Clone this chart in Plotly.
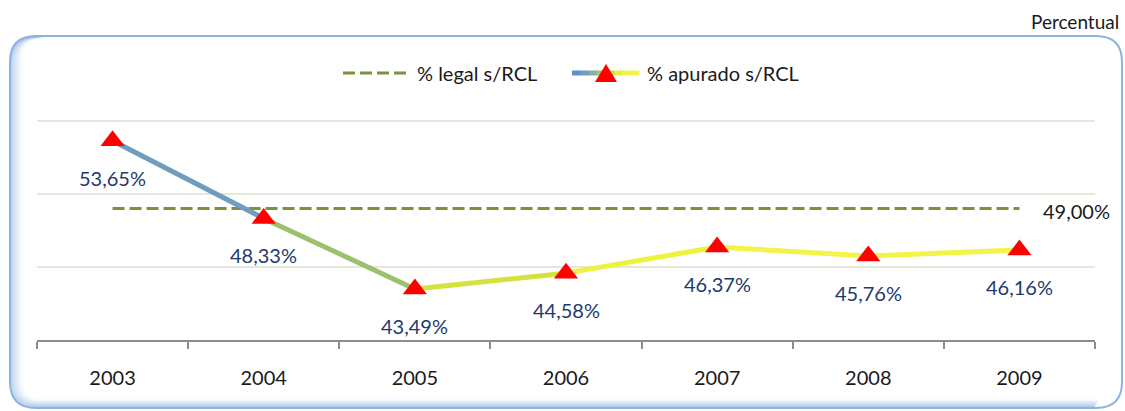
import plotly.graph_objects as go

# ---------------- data ----------------
years = ["2003", "2004", "2005", "2006", "2007", "2008", "2009"]
apurado = [53.65, 48.33, 43.49, 44.58, 46.37, 45.76, 46.16]
legal = [49.00, 49.00, 49.00, 49.00, 49.00, 49.00, 49.00]
apurado_labels = ["53,65%", "48,33%", "43,49%", "44,58%", "46,37%", "45,76%", "46,16%"]
legal_label = "49,00%"
legend_names = ["% legal s/RCL", "% apurado s/RCL"]
unit_text = "Percentual"

# colours of each line segment (gradient blue -> green -> yellow)
seg_colors = ["#6F9DBE", "#9DC06C", "#D3E23E", "#EDF23C", "#F2F44A", "#F2F44A"]

FONT = "Lato"
W, H = 1125, 411
L, R, T, B = 37, 30, 120, 71
PW, PH = W - L - R, H - T - B
BOT = H - B


def pp(px, py):
    return (px - L) / PW, (BOT - py) / PH


fig = go.Figure()

# legal line
fig.add_trace(go.Scatter(x=years, y=legal, mode="lines",
                         line=dict(color="#77933C", width=3, dash="12px,5px"),
                         hoverinfo="skip", showlegend=False))

# apurado line segments
for i in range(len(years) - 1):
    fig.add_trace(go.Scatter(x=years[i:i + 2], y=apurado[i:i + 2], mode="lines",
                             line=dict(color=seg_colors[i], width=5),
                             hoverinfo="skip", showlegend=False))

# markers
fig.add_trace(go.Scatter(x=years, y=apurado, mode="markers",
                         marker=dict(symbol="triangle-up", size=21, color="#FF0000",
                                     line=dict(width=0)),
                         showlegend=False))

annotations = []
for i, (v, lab) in enumerate(zip(apurado, apurado_labels)):
    annotations.append(dict(x=i, y=v, xref="x", yref="y", text=lab, showarrow=False,
                            yshift=-37,
                            font=dict(family=FONT, size=20, color="#1F3A6E"),
                            xanchor="center", yanchor="middle"))
annotations.append(dict(x=len(years) - 1, y=legal[-1], xref="x", yref="y",
                        text=legal_label, showarrow=False,
                        xshift=22, yshift=-2, xanchor="left", yanchor="middle",
                        font=dict(family=FONT, size=20, color="#1A1A1A")))

# unit text
ux, uy = pp(1121, 21)
annotations.append(dict(xref="paper", yref="paper", x=ux, y=uy, text=unit_text,
                        showarrow=False, xanchor="right", yanchor="middle",
                        font=dict(family=FONT, size=19, color="#1A1A1A")))

# legend texts
lx1, ly = pp(415, 73)
lx2, _ = pp(645, 73)
annotations.append(dict(xref="paper", yref="paper", x=lx1, y=ly, text=legend_names[0],
                        showarrow=False, xanchor="left", yanchor="middle",
                        font=dict(family=FONT, size=20, color="#1A1A1A")))
annotations.append(dict(xref="paper", yref="paper", x=lx2, y=ly, text=legend_names[1],
                        showarrow=False, xanchor="left", yanchor="middle",
                        font=dict(family=FONT, size=20, color="#1A1A1A")))

shapes = []


def _P(x, y):
    a, b = pp(x, y)
    return f"{a:.5f},{b:.5f}"


def rr_path(x0, y0, x1, y1, r):
    P = _P
    return (f"M {P(x0 + r, y0)} L {P(x1 - r, y0)} Q {P(x1, y0)} {P(x1, y0 + r)} "
            f"L {P(x1, y1 - r)} Q {P(x1, y1)} {P(x1 - r, y1)} L {P(x0 + r, y1)} "
            f"Q {P(x0, y1)} {P(x0, y1 - r)} L {P(x0, y0 + r)} Q {P(x0, y0)} {P(x0 + r, y0)} Z")


def lb_path(x0, y0, x1, y1, r):
    P = _P
    return (f"M {P(x0 + r, y0)} Q {P(x0, y0)} {P(x0, y0 + r)} "
            f"L {P(x0, y1 - r)} Q {P(x0, y1)} {P(x0 + r, y1)} "
            f"L {P(x1 - r, y1)}")


FX0, FY0, FX1, FY1, FR = 10, 36, 1122, 408, 26
for i in range(1, 14):
    a = 0.5 * (1 - i / 14) ** 1.6
    shapes.append(dict(type="path", xref="paper", yref="paper",
                       path=lb_path(FX0 + i, FY0 + i * 0.15, FX1 - 2, FY1 - i * 0.7, FR - i * 0.4),
                       line=dict(color=f"rgba(141,179,226,{a:.3f})", width=1.6),
                       layer="below"))
shapes.append(dict(type="path", xref="paper", yref="paper",
                   path=rr_path(FX0, FY0, FX1, FY1, FR),
                   line=dict(color="#8DB3E2", width=2), layer="below"))

# legend keys
k0x, ky = pp(343, 73)
k1x, _ = pp(409, 73)
shapes.append(dict(type="line", xref="paper", yref="paper", x0=k0x, x1=k1x, y0=ky, y1=ky,
                   line=dict(color="#77933C", width=3, dash="12px,5px")))
key_cols = ["#5B8FC9", "#6F9DBE", "#8AB197", "#A8C66A", "#C8DA45", "#E6EE3A", "#F2F44A", "#F2F44A"]
ks, ke = 572, 639
n = len(key_cols)
for j, c in enumerate(key_cols):
    a0, _ = pp(ks + (ke - ks) * j / n, 73)
    a1, _ = pp(ks + (ke - ks) * (j + 1) / n + 0.5, 73)
    shapes.append(dict(type="line", xref="paper", yref="paper", x0=a0, x1=a1, y0=ky, y1=ky,
                       line=dict(color=c, width=5)))
tx, tyb = pp(595, 82)
tx2, _ = pp(617, 82)
tcx, tyt = pp(606, 64)
shapes.append(dict(type="path", xref="paper", yref="paper",
                   path=f"M {tx:.5f},{tyb:.5f} L {tx2:.5f},{tyb:.5f} L {tcx:.5f},{tyt:.5f} Z",
                   fillcolor="#FF0000", line=dict(width=0)))

fig.update_layout(
    width=W, height=H,
    margin=dict(l=L, r=R, t=T, b=B, pad=0),
    paper_bgcolor="white", plot_bgcolor="white",
    showlegend=False,
    font=dict(family=FONT, size=20, color="#1A1A1A"),
    xaxis=dict(type="category", range=[-0.5, 6.5], tickson="boundaries",
               ticks="outside", ticklen=7, tickwidth=2, tickcolor="#8C8C8C",
               showline=True, linecolor="#8C8C8C", linewidth=2,
               showgrid=False, zeroline=False, ticklabelstandoff=19,
               tickfont=dict(family=FONT, size=20, color="#1A1A1A")),
    yaxis=dict(range=[40, 55.07], tickvals=[45, 50, 55], showticklabels=False,
               showgrid=True, gridcolor="#E8E8DA", gridwidth=1.5,
               zeroline=False, showline=False, ticks=""),
    annotations=annotations,
    shapes=shapes,
)

fig.write_html("out.html",
               config={"displayModeBar": False},
               post_script="document.body.style.margin='0';document.body.style.padding='0';"
                           "document.body.style.overflow='hidden';")
